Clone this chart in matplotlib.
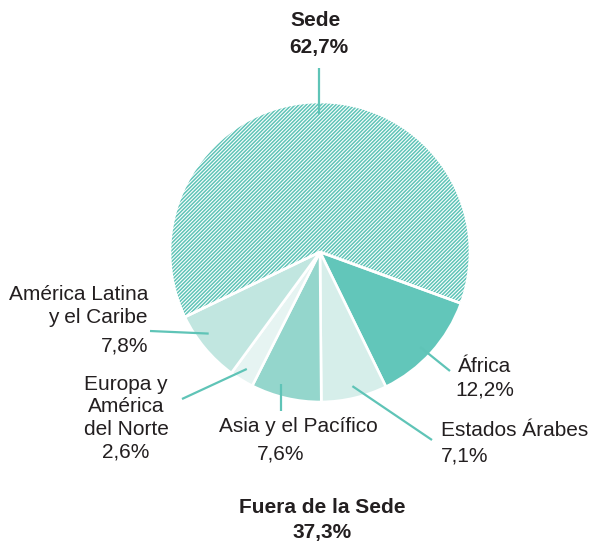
import numpy as np
import matplotlib
matplotlib.use("Agg")
import matplotlib.pyplot as plt
from matplotlib.patches import Wedge

plt.rcParams['font.family'] = ['Liberation Sans', 'DejaVu Sans']
plt.rcParams['hatch.linewidth'] = 1.1

# ---- data ----
regions = ["Sede", "África", "Estados Árabes", "Asia y el Pacífico",
           "Europa y América del Norte", "América Latina y el Caribe"]
shares = [62.7, 12.2, 7.1, 7.6, 2.6, 7.8]
labels_pct = ["62,7%", "12,2%", "7,1%", "7,6%", "2,6%", "7,8%"]
outside_total = "37,3%"

TEAL = "#5fc4b7"
TEXT = "#231f20"
colors = ["white", "#62c6ba", "#d6eeea", "#94d6cc", "#e6f4f2", "#c1e6e0"]

W, H = 594, 546
fig = plt.figure(figsize=(W / 100, H / 100), dpi=100)
ax = fig.add_axes([0, 0, 1, 1])

def Y(py):
    return H - py

cx, cy, R = 320, Y(252), 150
wedges, _ = ax.pie(shares, colors=colors, startangle=205.7, counterclock=False,
                   center=(cx, cy), radius=R, frame=True,
                   wedgeprops=dict(edgecolor='white', linewidth=1.9))
ax.set_xlim(0, W)
ax.set_ylim(0, H)
ax.set_aspect('equal')
ax.axis('off')

# Sede: hatched
sede = wedges[0]
sede.set_hatch('/' * 9)
sede.set_edgecolor(TEAL)
sede.set_linewidth(0)
ax.add_patch(Wedge(sede.center, sede.r, sede.theta1, sede.theta2,
                   facecolor='none', edgecolor='white', linewidth=1.9, zorder=3))

def inner_point(w, frac=0.92, dang=0.0):
    mid = np.deg2rad((w.theta1 + w.theta2) / 2 + dang)
    return (w.center[0] + frac * w.r * np.cos(mid),
            w.center[1] + frac * w.r * np.sin(mid))

# leader lines: (wedge index, outer end in px, angle tweak)
leaders = {
    0: ((319, 68), -2.4),
    1: ((450, 371), -1.5),
    2: ((432, 440), 0.3),
    3: ((282, 411), -3.3),
    4: ((182, 399), -0.5),
    5: ((150, 331), -3.5),
}
for i, ((ex, ey), dang) in leaders.items():
    sx, sy = inner_point(wedges[i], 0.92, dang)
    if i in (0, 3):
        ex = sx
    ax.plot([sx, ex], [sy, Y(ey)], color=TEAL, lw=1.6, solid_capstyle='butt', zorder=4)

fs = 15
def txt(x, y, s, ha='center', bold=False):
    ax.text(x, Y(y), s, ha=ha, va='baseline', fontsize=fs, color=TEXT,
            fontweight='bold' if bold else 'normal')

txt(316, 26, regions[0], bold=True)
txt(319, 53, labels_pct[0], bold=True)

txt(458, 372, regions[1], ha='left')
txt(455, 395, labels_pct[1], ha='left')

txt(441, 436, regions[2], ha='left')
txt(441, 462, labels_pct[2], ha='left')

txt(298, 432, regions[3])
txt(281, 460, labels_pct[3])

txt(126, 390, "Europa y")
txt(126, 412, "América")
txt(126, 435, "del Norte")
txt(126, 458, labels_pct[4])

txt(148, 300, "América Latina", ha='right')
txt(148, 323, "y el Caribe", ha='right')
txt(148, 352, labels_pct[5], ha='right')

txt(322, 513, "Fuera de la Sede", bold=True)
txt(322, 538, outside_total, bold=True)

fig.savefig("out.png", dpi=100)
